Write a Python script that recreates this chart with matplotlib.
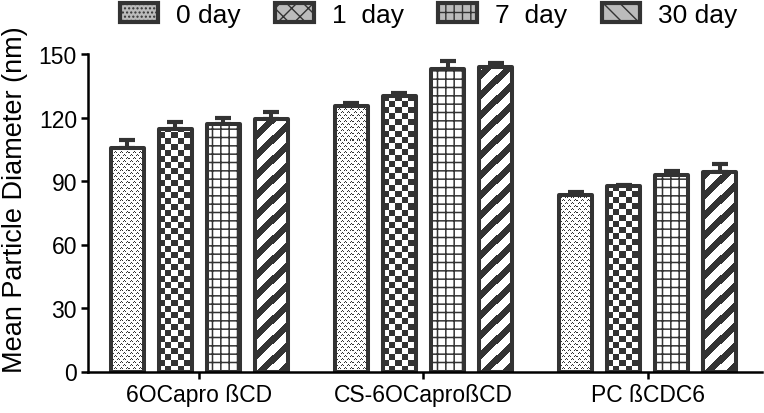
import numpy as np
import matplotlib.pyplot as plt
from matplotlib.patches import Patch
from matplotlib.colors import ListedColormap

plt.rcParams['font.family'] = ['Liberation Sans', 'DejaVu Sans']

# --- data ---
groups = ['6OCapro ßCD', 'CS-6OCaproßCD', 'PC ßCDC6']
days = ['0 day', '1  day', '7  day', '30 day']

day0 = [105.6, 125.4, 83.5]
day1 = [114.8, 130.0, 87.5]
day7 = [117.0, 142.8, 93.0]
day30 = [119.4, 143.9, 94.3]

day0_err = [3.6, 1.4, 1.3]
day1_err = [3.0, 1.7, 0.8]
day7_err = [3.0, 3.9, 1.9]
day30_err = [3.2, 1.7, 3.9]

yticks = [0, 30, 60, 90, 120, 150]

means = [day0, day1, day7, day30]
errs = [day0_err, day1_err, day7_err, day30_err]

DARK = '#333333'
EDGE_LW = 2.9
step = 48 / 224      # bar pitch inside a group (group pitch = 1)
width = 33 / 224


# small pixel tiles used as fill patterns (1 = dark)
def dots_tile():
    t = np.zeros((6, 6), int)
    t[5, 0] = t[5, 2] = t[4, 1] = 1      # little "v"
    t[2, 3] = t[2, 5] = t[1, 4] = 1
    return t


def checker_tile():
    t = np.zeros((12, 12), int)
    t[:6, :6] = 1
    t[6:, 6:] = 1
    return t


def stripe_tile():
    r, c = np.indices((20, 20))
    return ((r + c) % 20 < 9).astype(int)


tiles = [dots_tile(), checker_tile(), None, stripe_tile()]
hatches = [None, None, '++', None]

fig = plt.figure(figsize=(7.64, 4.14), dpi=100)
ax = fig.add_axes([88 / 764, 1 - 372.5 / 414, (762 - 88) / 764, (372.5 - 55) / 414])
ax.set_xlim(-0.4955, 2.509)
ax.set_ylim(0, 150)

px_per_x = ax.transData.transform((1, 0))[0] - ax.transData.transform((0, 0))[0]
px_per_y = ax.transData.transform((0, 1))[1] - ax.transData.transform((0, 0))[1]
pat_cmap = ListedColormap(['white', DARK])

x = np.arange(len(groups))
for i, (m, e) in enumerate(zip(means, errs)):
    pos = x + (i - 1.5) * step
    ax.errorbar(pos, m, yerr=[np.zeros(len(e)), e], fmt='none', ecolor=DARK,
                elinewidth=2.9, capsize=6, capthick=3.0, zorder=1)
    base = ax.bar(pos, m, width=width, color='white', edgecolor='none', zorder=1.5)
    if tiles[i] is not None:
        tile = tiles[i]
        th, tw = tile.shape
        for b in base:
            x0, w, h = b.get_x(), b.get_width(), b.get_height()
            nr = int(np.ceil(h * px_per_y / th)) + 1
            nc = int(np.ceil(w * px_per_x / tw)) + 1
            img = np.tile(tile, (nr, nc))
            im = ax.imshow(img, cmap=pat_cmap, interpolation='nearest',
                           extent=[x0, x0 + nc * tw / px_per_x, 0, nr * th / px_per_y],
                           aspect='auto', vmin=0, vmax=1, zorder=1.6)
            im.set_clip_path(b)
    bars = ax.bar(pos, m, width=width, fill=hatches[i] is not None, facecolor='none',
                  edgecolor=DARK, linewidth=EDGE_LW, hatch=hatches[i], zorder=2)
    for b in bars:
        b.set_joinstyle('round')
        if hasattr(b, 'set_hatch_linewidth'):
            b.set_hatch_linewidth(1.1)

ax.set_xlim(-0.4955, 2.509)
ax.set_ylim(0, 150)

ax.spines['top'].set_visible(False)
ax.spines['right'].set_visible(False)
for s in ['left', 'bottom']:
    ax.spines[s].set_linewidth(1.8)
ax.set_xticks(x)
ax.set_xticklabels(groups)
ax.set_yticks(yticks)
ax.tick_params(axis='both', width=1.8, length=5, labelsize=16.5, pad=3)
ax.set_ylabel('Mean Particle Diameter (nm)', fontsize=19.5)
ax.yaxis.set_label_coords(-0.089, 0.543)

legend_hatch = ['....', 'xx', '++', '\\\\']
handles = []
for h in legend_hatch:
    p = Patch(facecolor=DARK, edgecolor=DARK, linewidth=3, joinstyle='round', hatch=h)
    try:
        p.set_hatchcolor('white')
    except AttributeError:
        p.set_facecolor('#bbbbbb')
    handles.append(p)
fig.legend(handles, days, loc='center', bbox_to_anchor=(0.561, 1 - 15.5 / 414), ncol=4,
           frameon=False, fontsize=19, handlelength=1.45, handleheight=0.76,
           handletextpad=0.7, columnspacing=1.3, borderpad=0)

fig.savefig('out.png', dpi=100)
